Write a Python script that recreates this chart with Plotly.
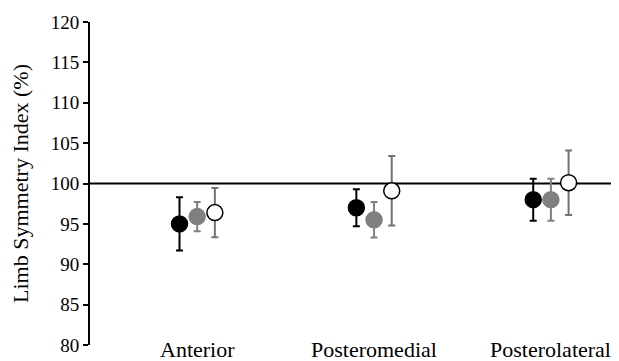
import plotly.graph_objects as go

categories = ["Anterior", "Posteromedial", "Posterolateral"]
black_vals = [95.0, 97.0, 98.0]
black_err = [3.3, 2.3, 2.6]
gray_vals = [95.9, 95.5, 98.0]
gray_err = [1.8, 2.2, 2.6]
white_vals = [96.4, 99.1, 100.1]
white_err = [3.05, 4.3, 4.0]
y_ticks = [80, 85, 90, 95, 100, 105, 110, 115, 120]

pos = list(range(len(categories)))
off = 0.1
FONT = "Liberation Serif"

fig = go.Figure()
fig.add_shape(type="line", xref="paper", x0=0, x1=1, yref="y", y0=100, y1=100,
              line=dict(color="black", width=2), layer="below")

series = [
    (black_vals, black_err, -off, "black", "black", "black"),
    (gray_vals, gray_err, 0.0, "#808080", "#808080", "#808080"),
    (white_vals, white_err, off, "white", "black", "#737373"),
]
for vals, err, dx, fill, edge, ecol in series:
    fig.add_trace(go.Scatter(
        x=[p + dx for p in pos], y=vals, mode="markers",
        marker=dict(size=16, color=fill, line=dict(color=edge, width=1.5)),
        error_y=dict(type="data", array=err, visible=True, color=ecol,
                     thickness=2, width=3.5),
        showlegend=False, cliponaxis=False,
    ))

for p, c in zip(pos, categories):
    fig.add_annotation(x=p, xref="x", y=0, yref="paper", text=c, showarrow=False,
                       yanchor="top", yshift=10, font=dict(family=FONT, size=22, color="black"))

# page body has an 8px margin; figure sized/offset to compensate
fig.update_layout(
    width=611, height=353,
    margin=dict(l=82, r=0, t=14, b=16),
    plot_bgcolor="white", paper_bgcolor="white",
    font=dict(family=FONT, size=18, color="black"),
)
fig.update_xaxes(range=[-0.606, 2.385], showticklabels=False,
                 showgrid=False, zeroline=False, showline=False, ticks="",
                 automargin=False)
fig.update_yaxes(range=[80, 120], tickvals=y_ticks, showgrid=False, zeroline=False,
                 showline=True, linecolor="black", linewidth=2,
                 ticks="outside", ticklen=5, tickwidth=1.5, tickcolor="black",
                 title=dict(text="Limb Symmetry Index (%)", font=dict(family=FONT, size=22), standoff=22),
                 tickfont=dict(family=FONT, size=19), automargin=False)

fig.write_html("out.html")
